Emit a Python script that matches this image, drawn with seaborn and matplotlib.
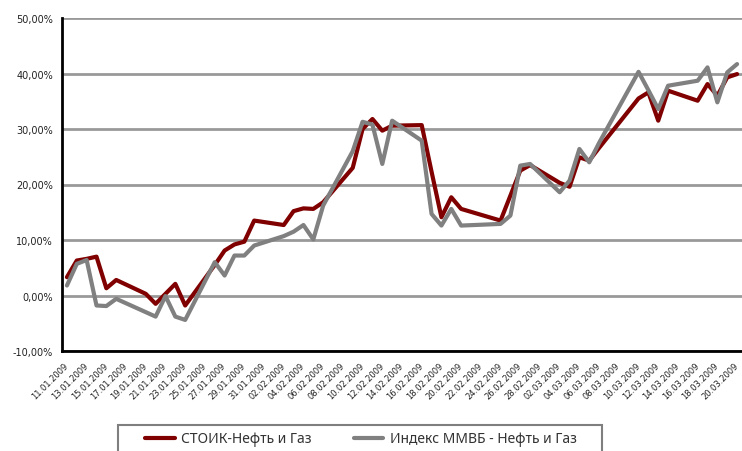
import matplotlib
matplotlib.use("Agg")
import matplotlib.pyplot as plt
from matplotlib.lines import Line2D
from matplotlib.patches import Rectangle
from matplotlib.ticker import FuncFormatter
import pandas as pd
import seaborn as sns

# Trading days, 11.01.2009 - 20.03.2009
dates = [
    "2009-01-11", "2009-01-12", "2009-01-13", "2009-01-14", "2009-01-15", "2009-01-16",
    "2009-01-19", "2009-01-20", "2009-01-21", "2009-01-22", "2009-01-23",
    "2009-01-26", "2009-01-27", "2009-01-28", "2009-01-29", "2009-01-30",
    "2009-02-02", "2009-02-03", "2009-02-04", "2009-02-05", "2009-02-06",
    "2009-02-09", "2009-02-10", "2009-02-11", "2009-02-12", "2009-02-13",
    "2009-02-16", "2009-02-17", "2009-02-18", "2009-02-19", "2009-02-20",
    "2009-02-24", "2009-02-25", "2009-02-26", "2009-02-27",
    "2009-03-02", "2009-03-03", "2009-03-04", "2009-03-05", "2009-03-06",
    "2009-03-10", "2009-03-11", "2009-03-12", "2009-03-13",
    "2009-03-16", "2009-03-17", "2009-03-18", "2009-03-19", "2009-03-20",
]

# Cumulative return, %
stoik = [
    3.3, 6.3, 6.6, 7.0, 1.3, 2.8,
    0.3, -1.5, 0.3, 2.1, -1.8,
    5.5, 8.1, 9.2, 9.7, 13.5,
    12.7, 15.2, 15.7, 15.6, 16.8,
    23.0, 30.0, 31.8, 29.7, 30.6,
    30.7, 22.3, 14.1, 17.7, 15.6,
    13.5, 18.0, 22.5, 23.5,
    20.3, 19.6, 24.9, 24.3, 26.6,
    35.5, 36.6, 31.5, 36.9,
    35.1, 38.1, 36.0, 39.3, 39.9,
]
micex_oil_gas = [
    1.8, 5.7, 6.4, -1.8, -1.9, -0.6,
    -3.0, -3.8, -0.1, -3.8, -4.4,
    6.0, 3.6, 7.2, 7.2, 9.0,
    10.7, 11.5, 12.7, 10.1, 16.2,
    26.0, 31.3, 30.8, 23.7, 31.5,
    27.9, 14.7, 12.6, 15.6, 12.6,
    12.9, 14.4, 23.4, 23.7,
    18.6, 20.7, 26.4, 24.0, 27.5,
    40.3, 37.0, 33.6, 37.8,
    38.7, 41.1, 34.8, 40.2, 41.7,
]

series_names = ["СТОИК-Нефть и Газ", "Индекс ММВБ - Нефть и Газ"]
colors = ["#800000", "#808080"]
y_ticks = [-10, 0, 10, 20, 30, 40, 50]
label_start, label_end = "2009-01-11", "2009-03-20"

n = len(dates)
df = pd.DataFrame({
    "date": pd.to_datetime(dates * 2),
    "value": stoik + micex_oil_gas,
    "series": [series_names[0]] * n + [series_names[1]] * n,
})

sns.set_style("white")
plt.rcParams["font.family"] = ["DejaVu Sans"]

W, H = 742, 452
fig = plt.figure(figsize=(W / 100, H / 100), dpi=100)
ax = fig.add_axes([62 / W, 1 - 352 / H, 680 / W, 333 / H])

sns.lineplot(data=df, x="date", y="value", hue="series", palette=colors,
             linewidth=3.0, ax=ax, legend=False, zorder=3)
for ln in ax.lines:
    ln.set_solid_joinstyle("round")
    ln.set_solid_capstyle("round")

# y axis
ax.set_ylim(y_ticks[0], y_ticks[-1])
ax.set_yticks(y_ticks)
ax.yaxis.set_major_formatter(FuncFormatter(lambda v, _: f"{v:.2f}%".replace(".", ",")))
ax.grid(axis="y", color="#999999", linewidth=2)
ax.grid(axis="x", visible=False)
ax.set_axisbelow(True)
ax.tick_params(axis="y", length=3.5, width=1.5, direction="out", color="black",
               labelsize=7, pad=3, labelcolor="#222222")

# x axis: one slot per day, labels every second day
label_dates = pd.date_range(label_start, label_end, freq="2D")
half_day = pd.Timedelta(hours=12)
ax.set_xlim(label_dates[0] - half_day, label_dates[-1] + half_day)
ax.set_xticks(label_dates)
ax.set_xticklabels([d.strftime("%d.%m.%Y") for d in label_dates],
                   rotation=45, ha="right", va="center", rotation_mode="anchor",
                   fontsize=6, color="#222222")
ax.set_xticks(label_dates - half_day, minor=True)
ax.tick_params(axis="x", which="major", length=0, pad=9)
ax.tick_params(axis="x", which="minor", length=3.5, width=1.5, direction="out",
               color="black")
ax.set_xlabel("")
ax.set_ylabel("")

for side in ("top", "right"):
    ax.spines[side].set_visible(False)
for side in ("left", "bottom"):
    ax.spines[side].set_color("black")
    ax.spines[side].set_linewidth(2)

# Legend below the chart, boxed
fig.add_artist(Rectangle((118 / W, -0.1), 484 / W, 0.1 + (H - 426) / H,
                         transform=fig.transFigure, fill=False,
                         edgecolor="#7f7f7f", linewidth=1.5))
handles = [Line2D([], [], color=c, linewidth=3) for c in colors]
fig.legend(handles, series_names, loc="center",
           bbox_to_anchor=(361 / W, 1 - 440 / H), ncol=2, frameon=False,
           handlelength=2.1, handletextpad=0.5, columnspacing=3.0,
           prop={"family": ["Noto Sans", "DejaVu Sans"], "size": 10},
           labelcolor="#333333")

fig.savefig("out.png", dpi=100)
